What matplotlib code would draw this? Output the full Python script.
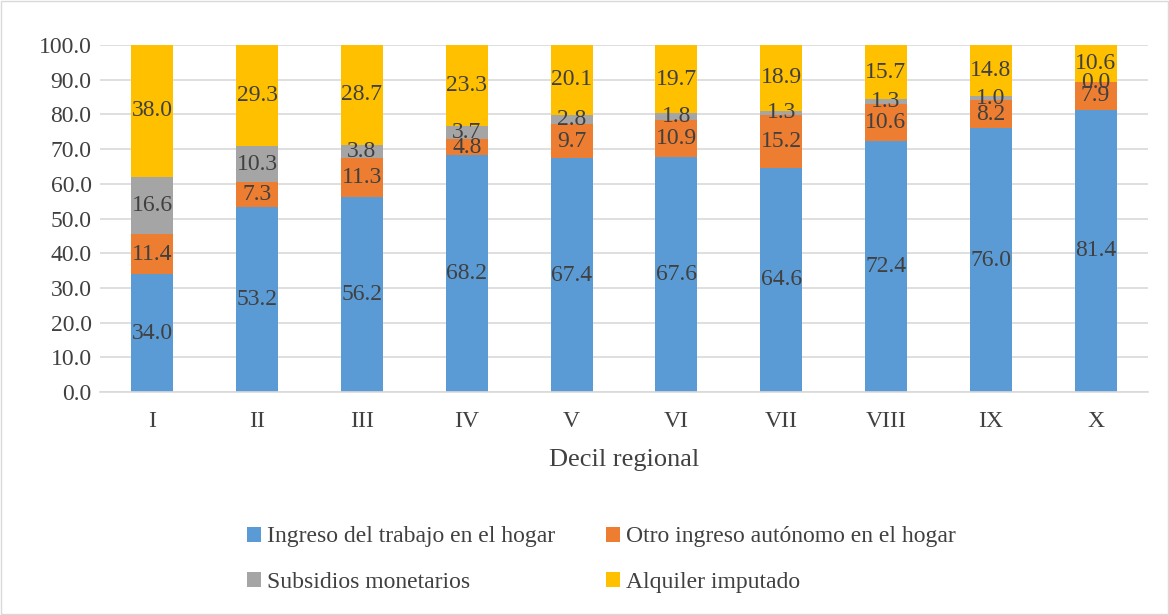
import matplotlib
matplotlib.use("Agg")
import matplotlib.pyplot as plt
from matplotlib.patches import Rectangle
import numpy as np

plt.rcParams['font.family'] = ['Liberation Serif', 'DejaVu Serif']

deciles = ["I", "II", "III", "IV", "V", "VI", "VII", "VIII", "IX", "X"]
ingreso_trabajo = [34.0, 53.2, 56.2, 68.2, 67.4, 67.6, 64.6, 72.4, 76.0, 81.4]
otro_autonomo = [11.4, 7.3, 11.3, 4.8, 9.7, 10.9, 15.2, 10.6, 8.2, 7.9]
subsidios = [16.6, 10.3, 3.8, 3.7, 2.8, 1.8, 1.3, 1.3, 1.0, 0.0]
alquiler = [38.0, 29.3, 28.7, 23.3, 20.1, 19.7, 18.9, 15.7, 14.8, 10.6]

series_names = ["Ingreso del trabajo en el hogar", "Otro ingreso autónomo en el hogar",
                "Subsidios monetarios", "Alquiler imputado"]
series_colors = ["#5B9BD5", "#ED7D31", "#A5A5A5", "#FFC000"]
text_color = "#404040"

fig = plt.figure(figsize=(11.69, 6.15), dpi=100)
fig.add_artist(Rectangle((0.001, 0.001), 0.998, 0.997, transform=fig.transFigure,
                         fill=False, edgecolor="#d9d9d9", linewidth=1.0))
ax = fig.add_axes([0.0855, 0.3626, 0.8965, 0.5642])

x = np.arange(len(deciles))
bottom = np.zeros(len(deciles))
handles = []
for vals, name, col in zip([ingreso_trabajo, otro_autonomo, subsidios, alquiler],
                           series_names, series_colors):
    vals = np.array(vals)
    b = ax.bar(x, vals, width=0.4, bottom=bottom, color=col, label=name, zorder=2)
    handles.append(b)
    for xi, v, bt in zip(x, vals, bottom):
        ax.text(xi, bt + v / 2, f"{v:.1f}", ha="center", va="center",
                fontsize=17, color=text_color, zorder=3)
    bottom = bottom + vals

ax.set_xlim(-0.5, len(deciles) - 0.5)
ax.set_ylim(0, 100)
ax.set_yticks(np.arange(0, 101, 10))
ax.set_yticklabels([f"{v:.1f}" for v in np.arange(0, 101, 10)])
ax.set_xticks(x)
ax.set_xticklabels(deciles)
ax.tick_params(axis="both", length=0, labelsize=17, colors=text_color)
ax.tick_params(axis="x", pad=14)
ax.tick_params(axis="y", pad=6)
ax.grid(axis="y", color="#d9d9d9", linewidth=1.2, zorder=0)
ax.set_axisbelow(True)
for s in ["top", "right", "left"]:
    ax.spines[s].set_visible(False)
ax.spines["bottom"].set_color("#d9d9d9")
ax.spines["bottom"].set_linewidth(1.2)

ax.set_xlabel("Decil regional", fontsize=19, color=text_color, labelpad=12)

# legend filled row by row (matplotlib fills columns first)
order = [0, 2, 1, 3]
leg = fig.legend(handles=[handles[i] for i in order], labels=[series_names[i] for i in order],
                 loc="upper left", bbox_to_anchor=(0.211, 0.144), ncol=2, frameon=False,
                 fontsize=17, handlelength=0.6, handleheight=0.6, handletextpad=0.25,
                 columnspacing=2.15, labelspacing=1.05, borderaxespad=0, borderpad=0)
for t in leg.get_texts():
    t.set_color(text_color)

fig.savefig("out.png", dpi=100)
